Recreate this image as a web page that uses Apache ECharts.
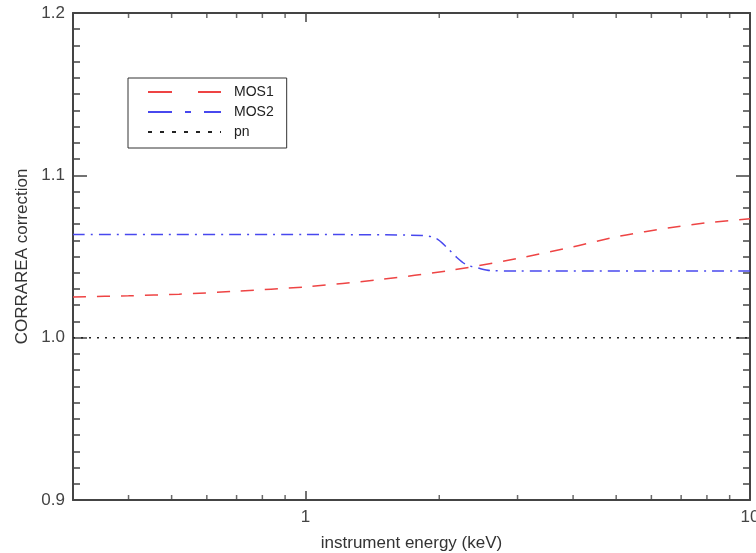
<!DOCTYPE html>
<html>
<head>
<meta charset="utf-8">
<script src="https://cdn.jsdelivr.net/npm/echarts@6/dist/echarts.min.js"></script>
<style>
  html, body { margin: 0; padding: 0; background: #fff; }
  #chart { width: 756px; height: 553px; }
</style>
</head>
<body>
<div id="chart"></div>
<script>
// energies in keV
const mos1Energy = [0.3, 0.4, 0.52, 0.7, 1.0, 1.47, 2.11, 3.0, 4.0, 5.1, 6.6, 8.0, 10];
const mos1Corr = [1.0251, 1.0258, 1.0268, 1.0286, 1.0313, 1.0358, 1.0414, 1.0488, 1.0560, 1.0626, 1.0677, 1.0708, 1.0732];

const mos2Energy = [0.3, 1.0, 1.83, 1.97, 2.08, 2.19, 2.30, 2.47, 2.6, 3.0, 10];
const mos2Corr = [1.0635, 1.0635, 1.0630, 1.0611, 1.0556, 1.0494, 1.0450, 1.0426, 1.0414, 1.0410, 1.0410];

const pnEnergy = [0.3, 10];
const pnCorr = [1.0, 1.0];

// minor ticks of the log energy axis
const minorTickEnergy = [0.4, 0.5, 0.6, 0.7, 0.8, 0.9, 2, 3, 4, 5, 6, 7, 8, 9];

const yMin = 0.9, yMax = 1.2;

const font = 'Liberation Sans';
const axisColor = '#444';

function pairs(xs, ys) {
  return xs.map(function (x, i) { return [x, ys[i]]; });
}

let chart = echarts.init(document.getElementById('chart'));

const xAxisBase = {
  type: 'log',
  logBase: 10,
  min: 0.3,
  max: 10,
  axisLine: { lineStyle: { color: axisColor, width: 2 } },
  axisTick: { inside: true, length: 9, lineStyle: { color: axisColor, width: 1.5 } },
  splitLine: { show: false }
};

const yAxisBase = {
  type: 'value',
  min: yMin,
  max: yMax,
  interval: 0.1,
  axisLine: { show: true, lineStyle: { color: axisColor, width: 2 } },
  axisTick: { show: true, inside: true, length: 14, lineStyle: { color: axisColor, width: 1.5 } },
  minorTick: { show: true, splitNumber: 10, length: 7, lineStyle: { color: axisColor, width: 1.5 } },
  splitLine: { show: false }
};

const tickSymbol = function (yVal, offsetY) {
  return {
    type: 'scatter',
    silent: true,
    symbol: 'rect',
    symbolSize: [1.5, 5],
    symbolOffset: [0, offsetY],
    itemStyle: { color: axisColor },
    data: minorTickEnergy.map(function (e) { return [e, yVal]; }),
    z: 5
  };
};

const options = {
  animation: false,
  backgroundColor: '#fff',
  textStyle: { fontFamily: font },
  grid: { left: 73, right: 6, top: 13, bottom: 53, outerBoundsMode: 'none', containLabel: false },
  legend: {
    orient: 'vertical',
    left: 128,
    top: 78,
    padding: [7, 13, 9, 19],
    borderColor: '#333',
    borderWidth: 1,
    itemWidth: 73,
    itemHeight: 14,
    itemGap: 6,
    itemStyle: { opacity: 0 },
    textStyle: { fontFamily: font, fontSize: 14, color: '#222', padding: [0, 0, 0, 8] },
    data: [
      { name: 'MOS1', lineStyle: { type: [24, 26], width: 2 } },
      { name: 'MOS2', lineStyle: { type: [24, 13, 6, 13], width: 2 } },
      { name: 'pn', lineStyle: { type: [4, 8], width: 2 } }
    ]
  },
  xAxis: [
    Object.assign({}, xAxisBase, {
      position: 'bottom',
      name: 'instrument energy (keV)',
      nameLocation: 'middle',
      nameGap: 35,
      nameTextStyle: { fontFamily: font, fontSize: 17, color: '#333' },
      axisLabel: { margin: 9, showMinLabel: false, fontFamily: font, fontSize: 17, color: '#444' }
    }),
    Object.assign({}, xAxisBase, {
      position: 'top',
      axisLabel: { show: false }
    })
  ],
  yAxis: [
    Object.assign({}, yAxisBase, {
      position: 'left',
      name: 'CORRAREA correction',
      nameLocation: 'middle',
      nameGap: 42,
      nameTextStyle: { fontFamily: font, fontSize: 17, color: '#333' },
      axisLabel: {
        margin: 8, fontFamily: font, fontSize: 17, color: '#444',
        formatter: function (v) { return v.toFixed(1); }
      }
    }),
    Object.assign({}, yAxisBase, {
      position: 'right',
      axisLabel: { show: false }
    })
  ],
  series: [
    {
      name: 'MOS1',
      type: 'line',
      showSymbol: false,
      symbol: 'none',
      smooth: 0.3,
      color: '#ee4444',
      lineStyle: { color: '#ee4444', width: 1.5, type: [13, 11] },
      data: pairs(mos1Energy, mos1Corr)
    },
    {
      name: 'MOS2',
      type: 'line',
      showSymbol: false,
      symbol: 'none',
      smooth: 0.3,
      color: '#4848ee',
      lineStyle: { color: '#4848ee', width: 1.5, type: [12, 6, 2, 6] },
      data: pairs(mos2Energy, mos2Corr)
    },
    {
      name: 'pn',
      type: 'line',
      showSymbol: false,
      symbol: 'none',
      color: '#222',
      lineStyle: { color: '#222', width: 1.5, type: [2, 6] },
      data: pairs(pnEnergy, pnCorr)
    },
    tickSymbol(yMin, -2.5),
    Object.assign(tickSymbol(yMax, 2.5), { xAxisIndex: 1, yAxisIndex: 1 })
  ]
};

chart.setOption(options);
window.addEventListener('resize', function () {
  chart.resize();
});
</script>
</body>
</html>
